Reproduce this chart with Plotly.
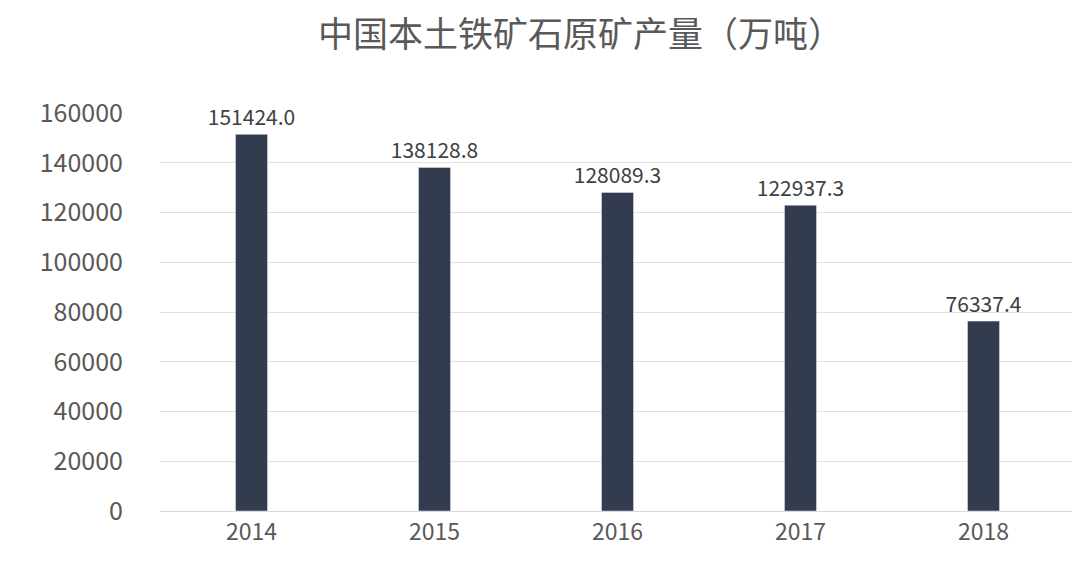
import plotly.graph_objects as go

years = ["2014", "2015", "2016", "2017", "2018"]
values = [151424.0, 138128.8, 128089.3, 122937.3, 76337.4]
labels = ["151424.0", "138128.8", "128089.3", "122937.3", "76337.4"]
title = "中国本土铁矿石原矿产量（万吨）"

font = "Noto Sans CJK SC"
fig = go.Figure(go.Bar(
    x=years, y=values, text=labels, textposition="outside",
    constraintext="none",
    textfont=dict(size=21, color="#404040", family=font),
    marker_color="#323c4e", width=0.175, cliponaxis=False))
fig.update_layout(
    width=1080, height=564,
    margin=dict(l=152, r=13, t=105, b=61, autoexpand=False),
    paper_bgcolor="white", plot_bgcolor="white",
    title=dict(text=title, x=0.53, xanchor="center", y=0.975, yanchor="top",
               font=dict(size=35, color="#595959", family=font)),
    xaxis=dict(tickfont=dict(size=23, color="#595959", family=font),
               showline=True, linecolor="#d9d9d9", ticks="", automargin=False),
    yaxis=dict(range=[0, 160000], dtick=20000, tickformat="d",
               tickfont=dict(size=25, color="#595959", family=font),
               gridcolor="#e0e0e0", zeroline=False, ticks="", automargin=False,
               ticklabelstandoff=36),
    showlegend=False)
fig.write_html("out.html")
